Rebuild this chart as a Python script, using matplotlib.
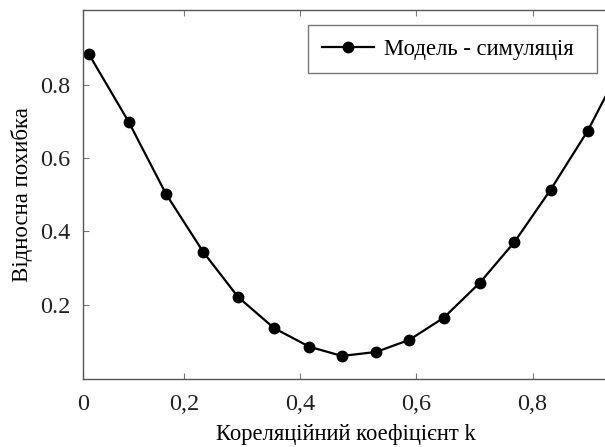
import numpy as np
import matplotlib.pyplot as plt

plt.rcParams['font.family'] = ['Liberation Serif', 'DejaVu Serif']

# Data
k_values = [0.036, 0.105, 0.169, 0.233, 0.293, 0.355, 0.416, 0.472,
            0.531, 0.588, 0.647, 0.709, 0.769, 0.831, 0.895, 0.956]
rel_error = [0.884, 0.698, 0.502, 0.344, 0.221, 0.136, 0.085, 0.060,
             0.071, 0.104, 0.164, 0.259, 0.371, 0.513, 0.674, 0.860]

x_ticks = [0.2, 0.4, 0.6, 0.8]
x_tick_labels = ['0,2', '0,4', '0,6', '0,8']
y_ticks = [0.2, 0.4, 0.6, 0.8]
y_tick_labels = ['0.2', '0.4', '0.6', '0.8']

fig = plt.figure(figsize=(6.05, 4.47), dpi=100)
ax = fig.add_axes([0.137, 0.152, 0.868, 0.826])

ax.plot(k_values, rel_error, color='black', lw=1.6, marker='o', ms=7.5,
        label='Модель - симуляція')

xmin, xmax = 0.026, 0.93
ax.set_xlim(xmin, xmax)
ax.set_ylim(-0.003, 1.004)

ax.set_xticks([xmin] + x_ticks)
ax.set_xticklabels(['0'] + x_tick_labels)
ax.set_yticks(y_ticks)
ax.set_yticklabels(y_tick_labels)

for s in ax.spines.values():
    s.set_color('#555555')
    s.set_linewidth(1.0)
ax.tick_params(direction='in', top=True, length=4, color='#777777',
               labelsize=17.5, colors='#222222')
ax.tick_params(axis='x', pad=11)
ax.tick_params(axis='y', pad=9)

ax.set_xlabel('Кореляційний коефіцієнт k', fontsize=16.3, labelpad=6)
ax.set_ylabel('Відносна похибка', fontsize=16.5, labelpad=5)

leg = ax.legend(loc='upper left', fontsize=16.3, frameon=True, fancybox=False,
                edgecolor='#555555', borderpad=0.6, handlelength=2.3,
                handletextpad=0.45, borderaxespad=0, mode='expand',
                bbox_to_anchor=(0.4286, 0, 0.550, 0.959))
leg.get_frame().set_linewidth(1.0)

fig.savefig('out.png', dpi=100)
